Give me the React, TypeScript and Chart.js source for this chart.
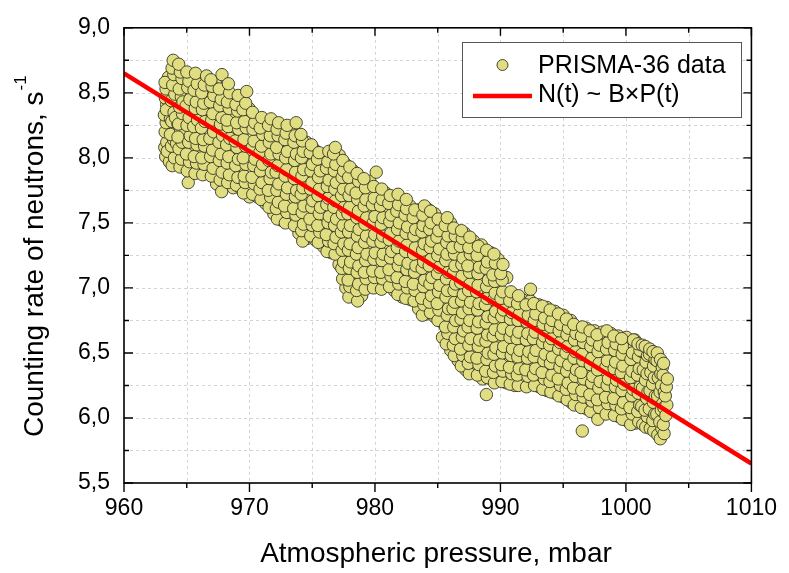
import { useEffect, useRef } from 'react';
import { Chart, registerables } from 'chart.js';

Chart.register(...registerables);

// ---- data (pressure mbar, counting rate s^-1) ----
const obs963to970: number[][] = [
  [963.32,8.01],[963.25,8.08],[963.41,8.12],[963.28,8.2],[963.36,8.27],[963.22,8.33],[963.4,8.41],[963.3,8.46],[963.35,8.53],[963.27,8.58],[963.45,8.05],[963.38,8.37],
  [963.84,7.94],[964.02,8.0],[963.78,8.09],[963.95,8.14],[964.08,8.23],[963.81,8.28],[963.99,8.35],[963.76,8.44],[964.05,8.49],[963.88,8.56],[963.97,8.64],[963.83,8.69],[963.92,8.75],[964.1,8.31],[963.7,8.18],
  [964.46,7.93],[964.58,7.99],[964.38,8.07],[964.63,8.12],[964.51,8.2],[964.35,8.26],[964.66,8.34],[964.44,8.39],[964.57,8.47],[964.4,8.53],[964.62,8.61],[964.49,8.66],[964.36,8.72],[964.7,8.43],[964.3,8.16],
  [965.12,7.81],[965.04,7.9],[965.22,7.97],[964.98,8.03],[965.15,8.12],[965.28,8.17],[965.02,8.25],[965.19,8.31],[964.95,8.4],[965.25,8.45],[965.08,8.54],[965.17,8.59],[965.01,8.66],
  [965.66,7.88],[965.78,7.96],[965.6,8.01],[965.82,8.1],[965.71,8.15],[965.55,8.24],[965.86,8.29],[965.68,8.38],[965.76,8.43],[965.58,8.52],[965.84,8.57],[965.7,8.65],
  [966.27,7.87],[966.38,7.95],[966.2,8.0],[966.42,8.09],[966.31,8.14],[966.17,8.23],[966.45,8.28],[966.25,8.37],[966.36,8.42],[966.19,8.5],[966.4,8.56],[966.58,8.63],
  [966.96,7.86],[967.1,7.92],[966.9,8.01],[967.06,8.06],[966.84,8.15],[967.14,8.2],[966.99,8.29],[967.08,8.34],[966.88,8.43],[967.16,8.48],[967.02,8.55],[966.93,8.6],
  [967.78,7.74],[967.66,7.83],[967.82,7.89],[967.6,7.98],[967.74,8.03],[967.57,8.12],[967.86,8.17],[967.69,8.26],[967.8,8.31],[967.63,8.4],[967.75,8.45],[967.59,8.53],[967.81,8.64],
  [968.26,7.81],[968.4,7.87],[968.22,7.96],[968.35,8.01],[968.18,8.1],[968.44,8.15],[968.3,8.24],[968.2,8.29],[968.38,8.38],[968.24,8.43],[968.42,8.5],[968.32,8.57],
  [968.96,7.79],[969.08,7.85],[968.9,7.94],[969.12,7.99],[969.0,8.08],[968.86,8.13],[969.14,8.22],[968.98,8.27],[969.06,8.36],[968.92,8.41],[969.1,8.48],
  [969.52,7.73],[969.66,7.81],[969.58,7.86],[969.72,7.95],[969.5,8.0],[969.68,8.09],[969.56,8.14],[969.74,8.23],[969.6,8.28],[969.48,8.37],[969.7,8.42],[969.78,8.51],
];

const obs970to980: number[][] = [
  [970.26,7.72],[970.38,7.8],[970.2,7.85],[970.34,7.94],[970.44,7.99],[970.22,8.08],[970.36,8.13],[970.28,8.22],[970.42,8.27],[970.24,8.35],
  [970.92,7.68],[970.84,7.76],[971.0,7.81],[970.88,7.9],[971.04,7.95],[970.82,8.04],[970.96,8.09],[971.06,8.18],[970.86,8.23],[970.98,8.31],
  [971.56,7.62],[971.68,7.7],[971.5,7.75],[971.64,7.84],[971.74,7.89],[971.54,7.98],[971.7,8.03],[971.58,8.12],[971.66,8.17],[971.52,8.25],[971.72,8.3],
  [972.22,7.53],[972.14,7.61],[972.3,7.66],[972.18,7.75],[972.34,7.8],[972.12,7.89],[972.26,7.94],[972.36,8.03],[972.16,8.08],[972.28,8.17],[972.2,8.22],[972.32,8.27],
  [972.86,7.5],[972.98,7.58],[972.8,7.63],[972.94,7.72],[973.04,7.77],[972.84,7.86],[972.96,7.91],[972.88,8.0],[973.02,8.05],[972.82,8.14],[972.92,8.19],[973.0,8.25],
  [973.58,7.48],[973.7,7.56],[973.52,7.61],[973.66,7.7],[973.76,7.75],[973.56,7.84],[973.68,7.89],[973.6,7.98],[973.74,8.03],[973.54,8.12],[973.64,8.17],[973.72,8.27],
  [974.24,7.36],[974.16,7.44],[974.3,7.49],[974.2,7.58],[974.34,7.63],[974.12,7.72],[974.26,7.77],[974.18,7.86],[974.32,7.91],[974.14,8.0],[974.28,8.05],[974.22,8.13],[974.1,8.18],
  [974.88,7.4],[975.0,7.48],[974.82,7.53],[974.96,7.62],[975.04,7.67],[974.86,7.76],[974.98,7.81],[974.9,7.9],[975.02,7.95],[974.84,8.04],[974.94,8.1],
  [975.48,7.35],[975.6,7.43],[975.44,7.48],[975.56,7.57],[975.66,7.62],[975.46,7.71],[975.58,7.76],[975.5,7.85],[975.64,7.9],[975.42,7.99],[975.54,8.04],
  [976.18,7.28],[976.3,7.36],[976.12,7.41],[976.26,7.5],[976.36,7.55],[976.16,7.64],[976.28,7.69],[976.2,7.78],[976.34,7.83],[976.14,7.92],[976.24,7.97],[976.32,8.05],
  [976.82,7.26],[976.74,7.34],[976.9,7.39],[976.78,7.48],[976.94,7.53],[976.72,7.62],[976.86,7.67],[976.8,7.76],[976.92,7.81],[976.76,7.9],[976.88,7.95],[976.7,8.03],[976.84,8.08],
  [977.42,7.07],[977.36,7.15],[977.5,7.2],[977.38,7.29],[977.52,7.34],[977.32,7.43],[977.46,7.48],[977.4,7.57],[977.54,7.62],[977.34,7.71],[977.48,7.76],[977.38,7.85],[977.5,7.9],[977.44,7.98],
  [977.92,6.93],[978.0,7.01],[977.86,7.06],[977.96,7.15],[978.06,7.2],[977.88,7.29],[978.02,7.34],[977.9,7.43],[978.04,7.48],[977.84,7.57],[977.98,7.62],[977.94,7.71],[978.08,7.76],[977.9,7.85],[978.0,7.93],
  [978.62,6.9],[978.54,6.98],[978.7,7.03],[978.58,7.12],[978.72,7.17],[978.52,7.26],[978.66,7.31],[978.6,7.4],[978.74,7.45],[978.56,7.54],[978.68,7.59],[978.62,7.68],[978.5,7.73],[978.7,7.82],[978.58,7.88],
  [979.22,6.99],[979.3,7.07],[979.16,7.12],[979.26,7.21],[979.36,7.26],[979.18,7.35],[979.32,7.4],[979.2,7.49],[979.34,7.54],[979.14,7.63],[979.28,7.68],[979.24,7.77],[979.12,7.84],
  [979.88,7.0],[979.96,7.08],[979.82,7.13],[979.92,7.22],[980.02,7.27],[979.84,7.36],[979.98,7.41],[979.86,7.5],[980.0,7.55],[979.8,7.64],[979.94,7.69],[979.9,7.78],[980.1,7.89],
];

const obs980to990: number[][] = [
  [980.52,6.99],[980.6,7.07],[980.46,7.12],[980.56,7.21],[980.66,7.26],[980.48,7.35],[980.62,7.4],[980.5,7.49],[980.64,7.54],[980.44,7.63],[980.58,7.68],[980.54,7.76],
  [981.16,7.01],[981.28,7.09],[981.12,7.14],[981.24,7.23],[981.34,7.28],[981.14,7.37],[981.26,7.42],[981.18,7.51],[981.3,7.56],[981.1,7.65],[981.22,7.71],
  [981.82,6.95],[981.9,7.03],[981.76,7.08],[981.86,7.17],[981.96,7.22],[981.78,7.31],[981.92,7.36],[981.8,7.45],[981.94,7.5],[981.74,7.59],[981.88,7.64],[981.84,7.72],
  [982.46,6.92],[982.58,7.0],[982.42,7.05],[982.54,7.14],[982.64,7.19],[982.44,7.28],[982.56,7.33],[982.48,7.42],[982.6,7.47],[982.4,7.56],[982.52,7.61],[982.5,7.68],
  [983.12,6.9],[983.2,6.98],[983.06,7.03],[983.16,7.12],[983.26,7.17],[983.08,7.26],[983.22,7.31],[983.1,7.4],[983.24,7.45],[983.04,7.54],[983.18,7.6],
  [983.78,6.79],[983.9,6.87],[983.72,6.92],[983.86,7.01],[983.96,7.06],[983.76,7.15],[983.88,7.2],[983.8,7.29],[983.92,7.34],[983.74,7.43],[983.84,7.48],[983.82,7.56],[983.94,7.63],
  [984.42,6.81],[984.34,6.89],[984.5,6.94],[984.38,7.03],[984.54,7.08],[984.32,7.17],[984.46,7.22],[984.4,7.31],[984.52,7.36],[984.36,7.45],[984.48,7.5],[984.44,7.59],
  [985.02,6.75],[985.1,6.83],[984.96,6.88],[985.06,6.97],[985.16,7.02],[984.98,7.11],[985.12,7.16],[985.0,7.25],[985.14,7.3],[984.94,7.39],[985.08,7.44],[985.04,7.53],
  [985.68,6.57],[985.8,6.65],[985.62,6.7],[985.76,6.79],[985.86,6.84],[985.66,6.93],[985.78,6.98],[985.7,7.07],[985.84,7.12],[985.64,7.21],[985.74,7.26],[985.72,7.35],[985.82,7.4],[985.6,7.48],[985.76,7.54],
  [986.32,6.48],[986.24,6.56],[986.4,6.61],[986.28,6.7],[986.44,6.75],[986.22,6.84],[986.36,6.89],[986.3,6.98],[986.42,7.03],[986.26,7.12],[986.38,7.17],[986.34,7.26],[986.2,7.31],[986.4,7.4],[986.28,7.46],
  [986.88,6.4],[987.0,6.48],[986.82,6.53],[986.96,6.62],[987.06,6.67],[986.86,6.76],[986.98,6.81],[986.9,6.9],[987.04,6.95],[986.84,7.04],[986.94,7.09],[986.92,7.18],[987.02,7.23],[986.8,7.32],[986.96,7.38],[986.9,7.44],
  [987.52,6.34],[987.44,6.42],[987.6,6.47],[987.48,6.56],[987.64,6.61],[987.42,6.7],[987.56,6.75],[987.5,6.84],[987.62,6.89],[987.46,6.98],[987.58,7.03],[987.54,7.12],[987.4,7.17],[987.6,7.26],[987.48,7.31],[987.56,7.39],
  [988.16,6.33],[988.28,6.41],[988.12,6.46],[988.24,6.55],[988.34,6.6],[988.14,6.69],[988.26,6.74],[988.18,6.83],[988.3,6.88],[988.1,6.97],[988.22,7.02],[988.2,7.11],[988.32,7.16],[988.14,7.25],[988.24,7.32],
  [988.88,6.18],[988.96,6.31],[988.82,6.36],[988.92,6.45],[989.02,6.5],[988.84,6.59],[988.98,6.64],[988.86,6.73],[989.0,6.78],[988.8,6.87],[988.94,6.92],[988.9,7.01],[989.04,7.06],[988.86,7.15],[988.96,7.2],[988.9,7.29],
  [989.52,6.27],[989.44,6.35],[989.6,6.4],[989.48,6.49],[989.64,6.54],[989.42,6.63],[989.56,6.68],[989.5,6.77],[989.62,6.82],[989.46,6.91],[989.58,6.96],[989.54,7.05],[989.4,7.1],[989.6,7.19],[989.48,7.26],
];

const obs990to1004: number[][] = [
  [990.12,6.28],[990.2,6.36],[990.06,6.41],[990.16,6.5],[990.26,6.55],[990.08,6.64],[990.22,6.69],[990.1,6.78],[990.24,6.83],[990.04,6.92],[990.18,6.97],[990.14,7.06],[990.02,7.11],[990.2,7.18],
  [990.78,6.26],[990.9,6.34],[990.72,6.39],[990.86,6.48],[990.96,6.53],[990.76,6.62],[990.88,6.67],[990.8,6.76],[990.92,6.81],[990.74,6.9],[990.84,6.97],
  [991.42,6.25],[991.34,6.33],[991.5,6.38],[991.38,6.47],[991.54,6.52],[991.32,6.61],[991.46,6.66],[991.4,6.75],[991.52,6.8],[991.36,6.88],[991.44,6.94],
  [992.08,6.24],[992.2,6.32],[992.02,6.37],[992.16,6.46],[992.26,6.51],[992.06,6.6],[992.18,6.65],[992.1,6.74],[992.22,6.79],[992.04,6.87],[992.4,6.99],
  [992.72,6.25],[992.64,6.33],[992.8,6.38],[992.68,6.47],[992.84,6.52],[992.62,6.61],[992.76,6.66],[992.7,6.75],[992.82,6.8],[992.66,6.88],
  [993.38,6.22],[993.5,6.3],[993.32,6.35],[993.46,6.44],[993.56,6.49],[993.36,6.58],[993.48,6.63],[993.4,6.72],[993.52,6.77],[993.34,6.86],
  [994.02,6.2],[993.94,6.28],[994.1,6.33],[993.98,6.42],[994.14,6.47],[993.92,6.56],[994.06,6.61],[994.0,6.7],[994.12,6.75],[993.96,6.83],
  [994.66,6.17],[994.78,6.25],[994.6,6.3],[994.74,6.39],[994.84,6.44],[994.64,6.53],[994.76,6.58],[994.68,6.67],[994.8,6.72],[994.62,6.8],
  [995.32,6.14],[995.24,6.22],[995.4,6.27],[995.28,6.36],[995.44,6.41],[995.22,6.5],[995.36,6.55],[995.3,6.64],[995.42,6.69],[995.26,6.76],
  [995.88,6.1],[996.0,6.18],[995.82,6.23],[995.96,6.32],[996.06,6.37],[995.86,6.46],[995.98,6.51],[995.9,6.6],[996.02,6.65],[995.84,6.72],
  [996.52,5.9],[996.44,6.08],[996.6,6.16],[996.48,6.21],[996.64,6.3],[996.42,6.35],[996.56,6.44],[996.5,6.49],[996.62,6.58],[996.46,6.63],[996.54,6.7],
  [997.18,6.05],[997.3,6.13],[997.12,6.18],[997.26,6.27],[997.36,6.32],[997.16,6.41],[997.28,6.46],[997.2,6.55],[997.32,6.6],[997.14,6.67],
  [997.76,5.99],[997.88,6.08],[997.72,6.14],[997.84,6.23],[997.94,6.28],[997.74,6.37],[997.86,6.42],[997.78,6.51],[997.9,6.56],[997.7,6.64],
  [998.42,6.03],[998.54,6.11],[998.38,6.16],[998.5,6.25],[998.6,6.3],[998.4,6.39],[998.52,6.44],[998.46,6.53],[998.58,6.58],[998.48,6.67],
  [999.08,6.02],[999.2,6.1],[999.02,6.15],[999.16,6.24],[999.26,6.29],[999.06,6.38],[999.18,6.43],[999.1,6.52],[999.22,6.57],[999.04,6.63],
  [999.72,5.99],[999.64,6.07],[999.8,6.12],[999.68,6.21],[999.84,6.26],[999.62,6.35],[999.76,6.4],[999.7,6.49],[999.82,6.54],[999.66,6.61],
  [1000.38,5.95],[1000.5,6.03],[1000.32,6.08],[1000.46,6.17],[1000.56,6.22],[1000.36,6.31],[1000.48,6.36],[1000.4,6.45],[1000.52,6.5],[1000.6,6.6],
  [1001.02,5.97],[1000.94,6.05],[1001.1,6.1],[1000.98,6.19],[1001.14,6.24],[1000.92,6.33],[1001.06,6.38],[1001.0,6.47],[1001.12,6.52],[1000.96,6.57],
  [1001.58,5.93],[1001.7,6.01],[1001.52,6.06],[1001.66,6.15],[1001.76,6.2],[1001.56,6.29],[1001.68,6.34],[1001.6,6.43],[1001.72,6.48],[1001.54,6.55],
  [1002.22,5.9],[1002.14,5.98],[1002.3,6.03],[1002.18,6.12],[1002.34,6.17],[1002.12,6.26],[1002.26,6.31],[1002.2,6.4],[1002.32,6.45],[1002.16,6.51],
  [1002.74,5.84],[1002.86,5.92],[1002.7,5.97],[1002.82,6.06],[1002.92,6.11],[1002.72,6.2],[1002.84,6.25],[1002.78,6.34],[1002.9,6.39],[1002.76,6.45],
  [1003.18,6.02],[1003.26,6.1],[1003.14,6.17],[1003.22,6.24],[1003.3,6.3],
];

// later-recorded points lying between the earlier ones
const obsLate963to980: number[][] = [
  [963.58,8.15],[963.66,8.43],[963.54,8.62],[963.7,8.3],[963.62,7.97],
  [964.16,8.04],[964.27,8.37],[964.12,8.58],[964.22,8.71],[964.3,8.26],[964.19,8.11],
  [964.84,7.96],[964.74,8.19],[964.88,8.5],[964.79,8.63],[964.92,8.35],
  [965.44,7.93],[965.35,8.08],[965.48,8.34],[965.38,8.49],[965.42,8.62],
  [966.05,7.91],[965.96,8.2],[966.08,8.33],[965.98,8.47],[966.02,8.6],[966.1,8.05],
  [966.66,7.9],[966.57,8.11],[966.7,8.26],[966.6,8.4],[966.68,8.54],
  [967.38,7.8],[967.3,8.0],[967.42,8.17],[967.33,8.36],[967.4,8.5],[967.28,8.58],
  [968.04,7.85],[967.96,8.06],[968.08,8.2],[967.98,8.35],[968.02,8.47],
  [968.7,7.77],[968.6,7.92],[968.66,8.05],[968.74,8.19],[968.62,8.32],[968.68,8.45],
  [969.34,7.76],[969.26,7.9],[969.32,8.04],[969.38,8.18],[969.28,8.33],[969.3,8.44],
  [970.0,7.7],[969.92,7.83],[969.98,7.97],[970.04,8.11],[969.94,8.25],[969.96,8.38],
  [970.64,7.7],[970.56,7.82],[970.62,7.98],[970.68,8.11],[970.58,8.25],[970.6,8.3],
  [971.28,7.65],[971.2,7.79],[971.26,7.93],[971.32,8.07],[971.22,8.2],[971.24,8.28],
  [971.94,7.57],[971.86,7.72],[971.92,7.86],[971.98,7.99],[971.88,8.13],[971.9,8.26],
  [972.58,7.52],[972.5,7.69],[972.56,7.83],[972.62,7.96],[972.52,8.1],[972.54,8.23],
  [973.28,7.52],[973.2,7.66],[973.26,7.79],[973.32,7.94],[973.22,8.08],[973.24,8.22],
  [973.94,7.42],[973.86,7.58],[973.92,7.72],[973.98,7.87],[973.88,8.01],[973.9,8.15],
  [974.58,7.38],[974.5,7.55],[974.56,7.69],[974.62,7.83],[974.52,7.98],[974.54,8.12],
  [975.24,7.37],[975.16,7.52],[975.22,7.66],[975.28,7.8],[975.18,7.94],[975.2,8.06],
  [975.88,7.32],[975.8,7.46],[975.86,7.6],[975.92,7.74],[975.82,7.88],[975.84,8.02],
  [976.54,7.27],[976.46,7.44],[976.52,7.58],[976.58,7.72],[976.48,7.86],[976.5,7.99],
  [977.14,7.18],[977.06,7.3],[977.12,7.45],[977.18,7.59],[977.08,7.73],[977.1,7.87],[977.16,8.02],
  [977.68,7.0],[977.6,7.1],[977.66,7.24],[977.72,7.38],[977.62,7.52],[977.64,7.66],[977.7,7.8],[977.66,7.95],
  [978.28,6.95],[978.2,7.08],[978.26,7.22],[978.32,7.36],[978.22,7.5],[978.24,7.64],[978.3,7.79],[978.26,7.9],
  [978.94,6.94],[978.86,7.09],[978.92,7.23],[978.98,7.37],[978.88,7.51],[978.9,7.65],[978.96,7.8],
  [979.58,7.03],[979.5,7.17],[979.56,7.31],[979.62,7.45],[979.52,7.6],[979.54,7.73],[979.6,7.82],
];

const obsLate980to1004: number[][] = [
  [980.24,7.02],[980.16,7.16],[980.22,7.3],[980.28,7.45],[980.18,7.59],[980.2,7.72],
  [980.88,7.03],[980.8,7.17],[980.86,7.32],[980.92,7.46],[980.82,7.6],[980.84,7.73],
  [981.54,6.98],[981.46,7.12],[981.52,7.26],[981.58,7.4],[981.48,7.55],[981.5,7.68],
  [982.18,6.93],[982.1,7.1],[982.16,7.24],[982.22,7.38],[982.12,7.52],[982.14,7.66],
  [982.84,6.91],[982.76,7.08],[982.82,7.22],[982.88,7.36],[982.78,7.5],[982.8,7.63],
  [983.48,6.84],[983.4,6.96],[983.46,7.1],[983.52,7.24],[983.42,7.38],[983.44,7.52],[983.5,7.6],
  [984.14,6.8],[984.06,6.97],[984.12,7.11],[984.18,7.25],[984.08,7.4],[984.1,7.54],[984.16,7.61],
  [984.74,6.78],[984.66,6.92],[984.72,7.06],[984.78,7.2],[984.68,7.34],[984.7,7.48],[984.76,7.57],
  [985.38,6.62],[985.3,6.74],[985.36,6.87],[985.42,7.01],[985.32,7.15],[985.34,7.29],[985.4,7.43],[985.36,7.52],
  [986.04,6.52],[985.96,6.66],[986.02,6.8],[986.08,6.94],[985.98,7.08],[986.0,7.22],[986.06,7.36],[986.02,7.5],
  [986.64,6.44],[986.56,6.58],[986.62,6.72],[986.68,6.86],[986.58,7.0],[986.6,7.14],[986.66,7.28],[986.62,7.42],
  [987.24,6.37],[987.16,6.51],[987.22,6.65],[987.28,6.79],[987.18,6.93],[987.2,7.07],[987.26,7.21],[987.22,7.35],[987.14,7.42],
  [987.88,6.35],[987.8,6.5],[987.86,6.64],[987.92,6.78],[987.82,6.92],[987.84,7.06],[987.9,7.2],[987.86,7.36],
  [988.58,6.3],[988.5,6.42],[988.56,6.57],[988.62,6.71],[988.52,6.85],[988.54,6.99],[988.6,7.13],[988.56,7.27],[988.48,7.33],
  [989.24,6.3],[989.16,6.44],[989.22,6.58],[989.28,6.72],[989.18,6.86],[989.2,7.0],[989.26,7.14],[989.22,7.27],
  [989.84,6.3],[989.76,6.45],[989.82,6.59],[989.88,6.73],[989.78,6.87],[989.8,7.01],[989.86,7.15],[989.82,7.22],
  [990.48,6.27],[990.4,6.41],[990.46,6.57],[990.52,6.71],[990.42,6.85],[990.44,6.95],[990.5,7.08],
  [991.14,6.25],[991.06,6.42],[991.12,6.56],[991.18,6.7],[991.08,6.84],[991.1,6.93],
  [991.78,6.26],[991.7,6.4],[991.76,6.55],[991.82,6.69],[991.72,6.83],[991.74,6.91],
  [992.44,6.27],[992.36,6.42],[992.42,6.56],[992.48,6.7],[992.38,6.84],[992.4,6.9],
  [993.08,6.24],[993.0,6.38],[993.06,6.52],[993.12,6.67],[993.02,6.81],[993.04,6.87],
  [993.74,6.21],[993.66,6.37],[993.72,6.52],[993.78,6.66],[993.68,6.8],[993.7,6.85],
  [994.38,6.19],[994.3,6.35],[994.36,6.5],[994.42,6.64],[994.32,6.78],[994.34,6.82],
  [995.04,6.16],[994.96,6.32],[995.02,6.46],[995.08,6.6],[994.98,6.74],[995.0,6.79],
  [995.64,6.12],[995.56,6.28],[995.62,6.42],[995.68,6.56],[995.58,6.7],[995.6,6.75],
  [996.24,6.1],[996.16,6.25],[996.22,6.4],[996.28,6.54],[996.18,6.68],
  [996.88,6.07],[996.8,6.22],[996.86,6.37],[996.92,6.51],[996.82,6.65],[996.84,6.69],
  [997.54,6.04],[997.46,6.18],[997.52,6.33],[997.58,6.48],[997.48,6.62],[997.5,6.67],
  [998.18,6.05],[998.1,6.2],[998.16,6.34],[998.22,6.48],[998.12,6.62],[998.14,6.66],
  [998.84,6.04],[998.76,6.19],[998.82,6.34],[998.88,6.47],[998.78,6.61],[998.8,6.65],
  [999.44,6.01],[999.36,6.17],[999.42,6.31],[999.48,6.45],[999.38,6.59],[999.4,6.63],
  [1000.08,5.98],[1000.0,6.14],[1000.06,6.28],[1000.12,6.42],[1000.02,6.56],[1000.04,6.62],
  [1000.74,5.96],[1000.66,6.12],[1000.72,6.26],[1000.78,6.4],[1000.68,6.55],[1000.7,6.6],
  [1001.34,5.95],[1001.26,6.09],[1001.32,6.23],[1001.38,6.37],[1001.28,6.51],[1001.3,6.56],
  [1001.94,5.92],[1001.86,6.07],[1001.92,6.21],[1001.98,6.35],[1001.88,6.49],[1001.9,6.53],
  [1002.54,5.87],[1002.46,6.03],[1002.52,6.17],[1002.58,6.31],[1002.48,6.44],[1002.5,6.5],
  [1003.04,5.88],[1002.98,5.95],[1003.02,6.08],[1003.06,6.2],[1002.96,6.33],[1003.0,6.42],
];

// fit line N(t) ~ B x P(t): end points across the axis range
const fitPressure = [960, 1010];
const fitRate = [8.65, 5.65];

const xTickValues = [960, 970, 980, 990, 1000, 1010];
const xTickLabels = ['960', '970', '980', '990', '1000', '1010'];
const yTickValues = [5.5, 6.0, 6.5, 7.0, 7.5, 8.0, 8.5, 9.0];
const yTickLabels = ['5,5', '6,0', '6,5', '7,0', '7,5', '8,0', '8,5', '9,0'];

const seriesName = 'PRISMA-36 data';
const fitName = 'N(t) ~ B\u00D7P(t)';
const xTitle = 'Atmospheric pressure, mbar';
const yTitle = 'Counting rate of neutrons, s';
const yTitleSup = '-1';

const FONT = '"Liberation Sans", Arial, sans-serif';
const MARKER_FILL = 'rgb(224,222,128)';
const MARKER_EDGE = 'rgb(55,55,40)';

function labelFor(values: number[], labels: string[], v: number) {
  const i = values.findIndex((t) => Math.abs(t - v) < 1e-6);
  return i >= 0 ? labels[i] : '';
}

const decorPlugin = {
  id: 'decor',
  beforeDatasetsDraw(chart: any) {
    const { ctx, chartArea, scales } = chart;
    const { left, right, top, bottom } = chartArea;
    ctx.save();
    ctx.strokeStyle = '#d4d4d4';
    ctx.lineWidth = 1;
    ctx.setLineDash([3, 3]);
    scales.x.ticks.forEach((t: any) => {
      const px = Math.round(scales.x.getPixelForValue(t.value)) + 0.5;
      if (px <= left + 2 || px >= right - 2) return;
      ctx.beginPath();
      ctx.moveTo(px, top);
      ctx.lineTo(px, bottom);
      ctx.stroke();
    });
    scales.y.ticks.forEach((t: any) => {
      const py = Math.round(scales.y.getPixelForValue(t.value)) + 0.5;
      if (py <= top + 2 || py >= bottom - 2) return;
      ctx.beginPath();
      ctx.moveTo(left, py);
      ctx.lineTo(right, py);
      ctx.stroke();
    });
    ctx.restore();
  },
  afterDraw(chart: any) {
    const { ctx, chartArea, scales } = chart;
    const { left, right, top, bottom } = chartArea;
    ctx.save();
    ctx.strokeStyle = '#000';
    ctx.lineWidth = 1.6;
    ctx.strokeRect(left, top, right - left, bottom - top);
    ctx.lineWidth = 1.4;
    ctx.beginPath();
    scales.x.ticks.forEach((t: any) => {
      const major = xTickValues.some((v) => Math.abs(v - t.value) < 1e-6);
      const px = scales.x.getPixelForValue(t.value);
      ctx.moveTo(px, bottom);
      ctx.lineTo(px, bottom + (major ? 9 : 5));
      ctx.moveTo(px, top);
      ctx.lineTo(px, top + (major ? 8 : 5));
    });
    scales.y.ticks.forEach((t: any) => {
      const major = yTickValues.some((v) => Math.abs(v - t.value) < 1e-6);
      const py = scales.y.getPixelForValue(t.value);
      ctx.moveTo(left, py);
      ctx.lineTo(left + (major ? 9 : 5), py);
      ctx.moveTo(right, py);
      ctx.lineTo(right - (major ? 8 : 5), py);
    });
    ctx.stroke();

    ctx.fillStyle = '#000';
    ctx.font = `28px ${FONT}`;
    ctx.textAlign = 'center';
    ctx.textBaseline = 'alphabetic';
    ctx.fillText(xTitle, 436, 562);

    ctx.save();
    ctx.translate(43, 437);
    ctx.rotate(-Math.PI / 2);
    ctx.textAlign = 'left';
    ctx.fillText(yTitle, 0, 0);
    const w = ctx.measureText(yTitle).width;
    ctx.font = `17px ${FONT}`;
    ctx.fillText(yTitleSup, w + 1, -17);
    ctx.restore();

    ctx.fillStyle = '#fff';
    ctx.fillRect(462.5, 42.5, 279, 75);
    ctx.strokeStyle = '#555';
    ctx.lineWidth = 1;
    ctx.strokeRect(462.5, 42.5, 279, 75);
    ctx.beginPath();
    ctx.arc(502.5, 65, 5.5, 0, Math.PI * 2);
    ctx.fillStyle = MARKER_FILL;
    ctx.fill();
    ctx.strokeStyle = MARKER_EDGE;
    ctx.lineWidth = 0.9;
    ctx.stroke();
    ctx.strokeStyle = '#ff0000';
    ctx.lineWidth = 4.5;
    ctx.beginPath();
    ctx.moveTo(473, 96);
    ctx.lineTo(532, 96);
    ctx.stroke();
    ctx.fillStyle = '#000';
    ctx.font = `25px ${FONT}`;
    ctx.textAlign = 'left';
    ctx.fillText(seriesName, 538, 73);
    ctx.fillText(fitName, 538, 102);
    ctx.restore();
  },
};

export default function App() {
  const ref = useRef<HTMLCanvasElement | null>(null);
  useEffect(() => {
    if (!ref.current) return;
    const early = [...obs963to970, ...obs970to980, ...obs980to990, ...obs990to1004];
    const late = [...obsLate963to980, ...obsLate980to1004];
    // interleave the two sets so neither lies entirely on top
    const merged: number[][] = [];
    const n = Math.max(early.length, late.length);
    for (let i = 0; i < n; i++) {
      if (i < early.length) merged.push(early[i]);
      const j = Math.floor((i * late.length) / early.length);
      if (j < late.length && merged.indexOf(late[j]) < 0) merged.push(late[j]);
    }
    late.forEach((p) => {
      if (merged.indexOf(p) < 0) merged.push(p);
    });
    const points = merged.map((p) => ({ x: p[0], y: p[1] }));
    const fit = fitPressure.map((x, i) => ({ x, y: fitRate[i] }));
    const chart = new Chart(ref.current, {
      type: 'scatter',
      data: {
        datasets: [
          {
            label: fitName,
            data: fit,
            showLine: true,
            borderColor: '#ff0000',
            borderWidth: 4.5,
            pointRadius: 0,
            order: 0,
          } as any,
          {
            label: seriesName,
            data: points,
            pointRadius: 6.2,
            pointBackgroundColor: MARKER_FILL,
            pointBorderColor: MARKER_EDGE,
            pointBorderWidth: 0.9,
            order: 1,
          } as any,
        ],
      },
      options: {
        animation: false,
        responsive: false,
        devicePixelRatio: 1,
        layout: { padding: { left: 0, right: 30, top: 14, bottom: 0 } },
        plugins: { legend: { display: false }, tooltip: { enabled: false } },
        scales: {
          x: {
            type: 'linear',
            min: 960,
            max: 1010,
            afterFit: (s: any) => {
              s.height = 90;
            },
            grid: { display: false, drawTicks: false },
            border: { display: false },
            ticks: {
              stepSize: 5,
              padding: 12,
              color: '#000',
              font: { family: FONT, size: 23 },
              maxRotation: 0,
              autoSkip: false,
              callback: (v: any) => labelFor(xTickValues, xTickLabels, Number(v)),
            },
          },
          y: {
            type: 'linear',
            min: 5.5,
            max: 9.0,
            afterFit: (s: any) => {
              s.width = 124;
            },
            grid: { display: false, drawTicks: false },
            border: { display: false },
            ticks: {
              stepSize: 0.25,
              padding: 14,
              color: '#000',
              font: { family: FONT, size: 23 },
              autoSkip: false,
              callback: (v: any) => labelFor(yTickValues, yTickLabels, Number(v)),
            },
          },
        },
      },
      plugins: [decorPlugin],
    });
    return () => chart.destroy();
  }, []);
  return (
    <div style={{ position: 'fixed', left: 0, top: 0, width: 789, height: 573, background: '#fff' }}>
      <canvas ref={ref} width={789} height={573} style={{ width: 789, height: 573 }} />
    </div>
  );
}
